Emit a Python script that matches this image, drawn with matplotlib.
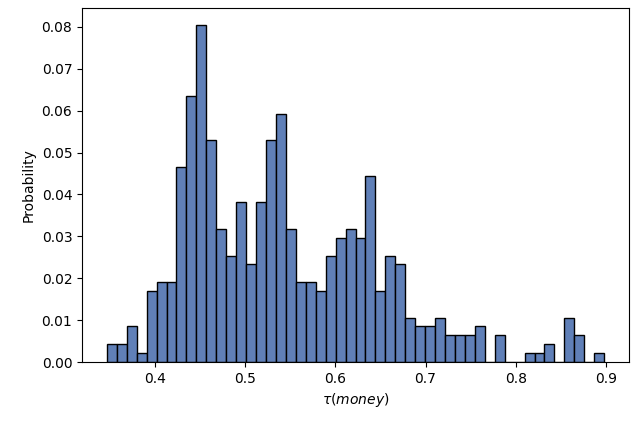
import numpy as np
import matplotlib.pyplot as plt

# histogram probabilities per bin
bin_start = 0.3467
bin_width = 0.011026
probs = [0.0042, 0.0042, 0.0085, 0.0021, 0.0170, 0.0191, 0.0191, 0.0466, 0.0636, 0.0805,
         0.0530, 0.0318, 0.0254, 0.0381, 0.0233, 0.0381, 0.0530, 0.0593, 0.0318, 0.0191,
         0.0191, 0.0170, 0.0254, 0.0297, 0.0318, 0.0297, 0.0445, 0.0170, 0.0254, 0.0233,
         0.0106, 0.0085, 0.0085, 0.0106, 0.0064, 0.0064, 0.0064, 0.0085, 0.0, 0.0064,
         0.0, 0.0, 0.0021, 0.0021, 0.0042, 0.0, 0.0106, 0.0064, 0.0, 0.0021]

edges = bin_start + bin_width * np.arange(len(probs))

fig = plt.figure(figsize=(6.38, 4.23), dpi=100)
ax = fig.add_axes([82 / 638, 61 / 423, 547 / 638, 354 / 423])
ax.bar(edges, probs, width=bin_width, align='edge', color='#6080b8',
       edgecolor='black', linewidth=1.0)
ax.set_ylim(0, 0.0845)
ax.set_xticks([0.4, 0.5, 0.6, 0.7, 0.8, 0.9])
ax.set_yticks(np.arange(0, 0.081, 0.01))
ax.set_yticklabels([f"{v:.2f}" for v in np.arange(0, 0.081, 0.01)])
ax.set_xlabel(r'$\tau(money)$')
ax.set_ylabel('Probability')
fig.savefig('out.png')
